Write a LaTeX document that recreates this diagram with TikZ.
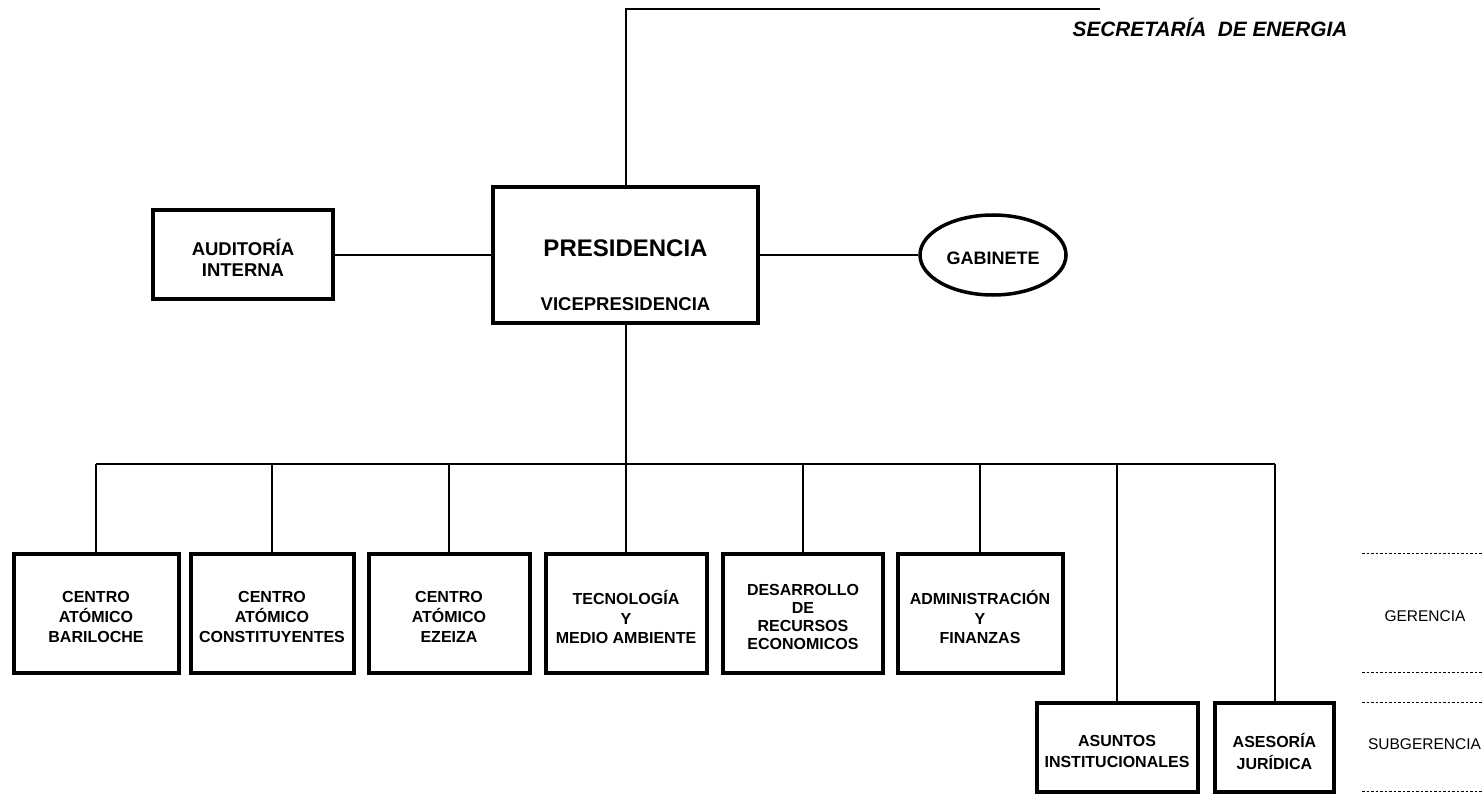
\documentclass[tikz,border=0pt]{standalone}
\usepackage{fontspec}
\setmainfont{Liberation Sans}
\usetikzlibrary{shapes.geometric}
\tikzset{
  unitbox/.style={draw, line width=4pt, rectangle, inner sep=0pt},
  gerbox/.style={unitbox, minimum height=119pt},
  subbox/.style={unitbox, minimum height=89pt},
  boxtext/.style={inner sep=0pt, align=center, font=\fontsize{16}{19.7}\selectfont\bfseries},
  subtext/.style={boxtext, font=\fontsize{16}{21.5}\selectfont\bfseries},
  conn/.style={draw, line width=2pt},
  level/.style={draw, line width=1pt, dash pattern=on 2.5pt off 2pt},
  levellabel/.style={font=\fontsize{15.5}{18}\selectfont},
}
\begin{document}
\begin{tikzpicture}[x=1pt,y=-1pt]
\useasboundingbox (0,0) rectangle (1482,794);

% top level
\node[unitbox, minimum width=265pt, minimum height=136pt] (pres) at (625.5,255) {};
\node[anchor=base, font=\fontsize{24}{28}\selectfont\bfseries] (presT) at (625.5,257) {PRESIDENCIA};
\node[anchor=base, font=\fontsize{18.5}{22}\selectfont\bfseries] (vpresT) at (625.5,310) {VICEPRESIDENCIA};

\node[unitbox, minimum width=180pt, minimum height=89pt] (aud) at (243,254.5) {};
\node[boxtext, font=\fontsize{18.5}{21.5}\selectfont\bfseries] (audT) at (243,258) {AUDITORÍA\\INTERNA};
\node[draw, ellipse, line width=3.5pt, inner sep=0pt, minimum width=146pt, minimum height=80pt] (gab) at (993,255) {};
\node[boxtext, font=\fontsize{18}{22}\selectfont\bfseries] (gabT) at (993,258.5) {GABINETE};

\node[font=\fontsize{20.8}{24}\selectfont\bfseries\itshape] (sec) at (1210,27) {SECRETARÍA~~DE ENERGIA};
\coordinate (secend) at (1100,9.5);
\draw[conn] (pres.north) |- (secend);

\draw[conn] (aud.east |- 0,255) -- (pres.west |- 0,255);
\draw[conn] (pres.east |- 0,255) -- (gab.west);

% gerencias
\node[gerbox, minimum width=165pt] (g1) at (96,613.5) {};
\node[gerbox, minimum width=163pt] (g2) at (272,613.5) {};
\node[gerbox, minimum width=161pt] (g3) at (449,613.5) {};
\node[gerbox, minimum width=161pt] (g4) at (626,613.5) {};
\node[gerbox, minimum width=160pt] (g5) at (803,613.5) {};
\node[gerbox, minimum width=165pt] (g6) at (980,613.5) {};
\node[boxtext] (g1T) at (96,617) {CENTRO\\ATÓMICO\\BARILOCHE};
\node[boxtext] (g2T) at (272,617) {CENTRO\\ATÓMICO\\CONSTITUYENTES};
\node[boxtext] (g3T) at (449,617) {CENTRO\\ATÓMICO\\EZEIZA};
\node[boxtext] (g4T) at (626,617) {TECNOLOGÍA\\Y\\MEDIO AMBIENTE};
\node[boxtext, font=\fontsize{16}{18}\selectfont\bfseries] (g5T) at (803,617) {DESARROLLO\\DE\\RECURSOS\\ECONOMICOS};
\node[boxtext] (g6T) at (980,617) {ADMINISTRACIÓN\\Y\\FINANZAS};

% subgerencias
\node[subbox, minimum width=161pt] (s1) at (1117,747.5) {};
\node[subbox, minimum width=119pt] (s2) at (1274.5,747.5) {};
\node[subtext] (s1T) at (1117,751.5) {ASUNTOS\\INSTITUCIONALES};
\node[subtext] (s2T) at (1274.5,751.5) {ASESORÍA\\JURÍDICA};

% bus
\coordinate (bus) at (0,464);
\draw[conn] (pres.south) -- (pres.south |- bus);
\draw[conn] (g1.north |- bus) -- (s2.north |- bus);
\foreach \n in {g1,g2,g3,g4,g5,g6,s1,s2}
  \draw[conn] (\n.north) -- (\n.north |- bus);

% levels
\draw[level] (1362,553.5) -- (1482,553.5);
\draw[level] (1362,672.5) -- (1482,672.5);
\draw[level] (1362,702.5) -- (1482,702.5);
\draw[level] (1362,791) -- (1482,791);
\node[levellabel] (gerlab) at (1425,616) {GERENCIA};
\node[levellabel] (sublab) at (1424.5,744) {SUBGERENCIA};
\end{tikzpicture}
\end{document}
